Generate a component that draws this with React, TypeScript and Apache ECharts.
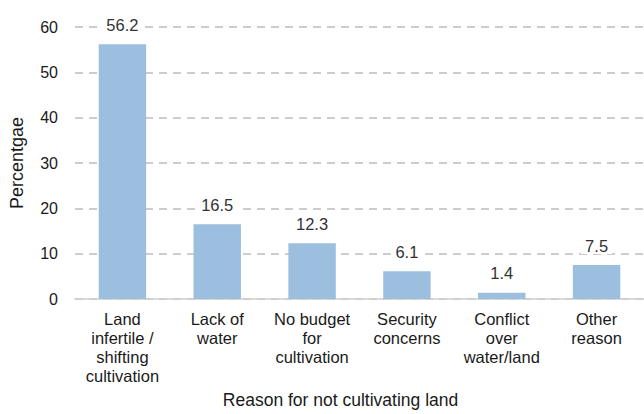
import React, { useEffect, useRef } from "react";
import * as echarts from "echarts";

const categories = [
  "Land\ninfertile /\nshifting\ncultivation",
  "Lack of\nwater",
  "No budget\nfor\ncultivation",
  "Security\nconcerns",
  "Conflict\nover\nwater/land",
  "Other\nreason",
];
const values = [56.2, 16.5, 12.3, 6.1, 1.4, 7.5];
const yTicks = { min: 0, max: 60, interval: 10 };

export default function App() {
  const ref = useRef<HTMLDivElement>(null);
  useEffect(() => {
    if (!ref.current) return;
    const chart = echarts.init(ref.current, null, { renderer: "svg" });
    const font = "'Liberation Sans', Arial, sans-serif";
    chart.setOption({
      animation: false,
      textStyle: { fontFamily: font },
      grid: { left: 74, top: 27, width: 576, height: 276 },
      xAxis: {
        type: "category",
        data: categories,
        axisTick: { show: false },
        axisLine: { lineStyle: { color: "#cfcfcf", width: 1.5 } },
        axisLabel: {
          interval: 0,
          color: "#1a1a1a",
          fontSize: 16.5,
          lineHeight: 19,
          margin: 10,
          fontFamily: font,
        },
        name: "Reason for not cultivating land",
        nameLocation: "middle",
        nameGap: 92,
        nameTextStyle: {
          color: "#1a1a1a",
          fontSize: 17.5,
          fontFamily: font,
          padding: [0, 38, 0, 0],
        },
      },
      yAxis: {
        type: "value",
        min: yTicks.min,
        max: yTicks.max,
        interval: yTicks.interval,
        axisLine: { show: false },
        axisTick: { show: false },
        axisLabel: { color: "#1a1a1a", fontSize: 16, margin: 17, fontFamily: font },
        splitLine: { lineStyle: { color: "#bdbdbd", type: [8, 6], width: 1.5 } },
        name: "Percentgae",
        nameLocation: "middle",
        nameGap: 49,
        nameTextStyle: { color: "#1a1a1a", fontSize: 18, fontFamily: font },
      },
      series: [
        {
          type: "bar",
          data: values,
          barWidth: "50%",
          itemStyle: { color: "#9dbfdf" },
          label: {
            show: true,
            position: "top",
            distance: 11,
            color: "#333",
            fontSize: 16.5,
            fontFamily: font,
            backgroundColor: "#fff",
            padding: [0, 4],
          },
        },
      ],
    });
    return () => chart.dispose();
  }, []);
  return <div ref={ref} style={{ width: 644, height: 414, position: "absolute", left: 0, top: 0 }} />;
}
